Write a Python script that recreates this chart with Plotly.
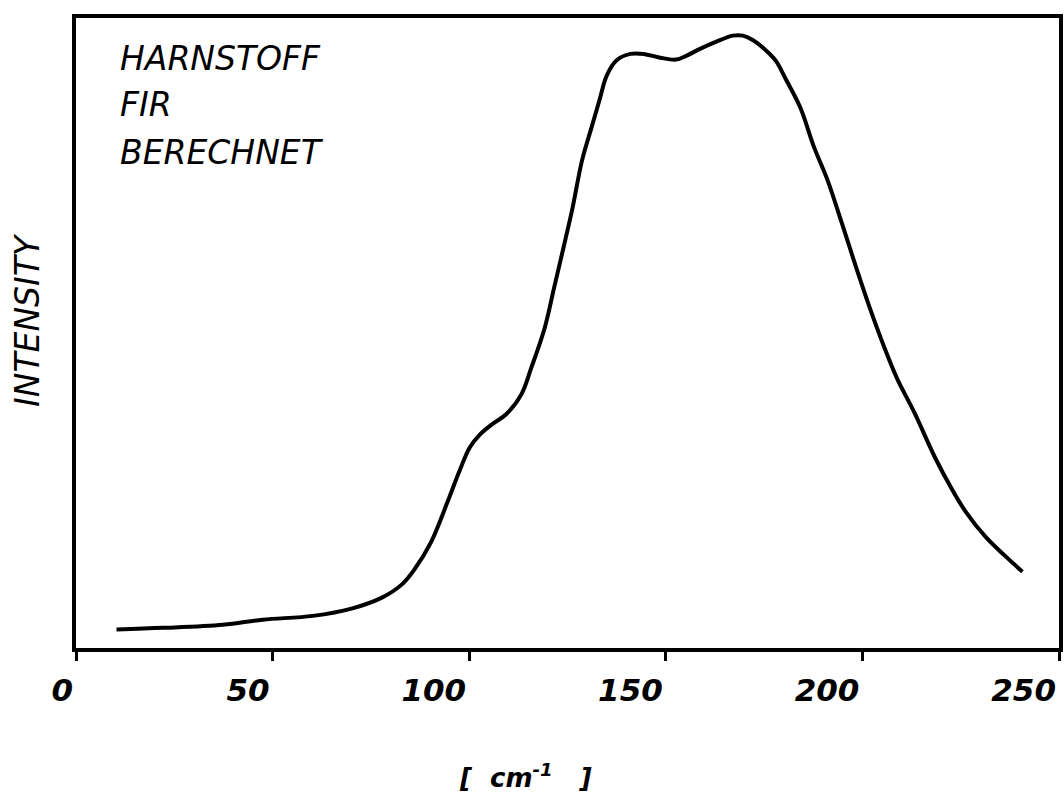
import plotly.graph_objects as go

# wavenumber [cm^-1]
wavenumber = [10.3, 22.2, 37.4, 47.5, 60.2, 70.3, 77.8, 82.9, 86.1, 90.3,
              94.5, 97.6, 100.1, 102.6, 105.8, 109.4, 113.3, 115.8, 119.2, 121.6,
              124.0, 126.3, 128.7, 131.1, 133.1, 135.0, 137.5, 141.0, 144.3, 148.6,
              152.6, 155.2, 158.7, 162.7, 167.0, 169.6, 172.1, 175.4, 178.0, 180.6,
              184.2, 187.7, 191.1, 194.8, 198.3, 201.7, 205.4, 208.8, 213.2, 218.5,
              222.6, 226.2, 231.4, 236.5, 240.7]
# intensity (arbitrary units)
intensity = [2.95, 3.2, 3.7, 4.5, 5.1, 6.3, 8.0, 10.1, 12.5, 16.8,
             23.2, 28.2, 31.8, 33.8, 35.5, 37.1, 40.3, 44.5, 50.8, 57.2,
             63.6, 69.9, 77.4, 82.6, 86.9, 90.9, 93.3, 94.3, 94.3, 93.7,
             93.4, 94.0, 95.1, 96.2, 97.2, 97.2, 96.5, 94.9, 93.2, 90.2,
             85.8, 79.5, 74.3, 67.4, 60.6, 54.3, 48.0, 42.8, 37.4, 30.2,
             25.4, 21.7, 17.6, 14.5, 12.1]

tick_vals = [0, 50, 100, 150, 200, 250]
tick_text = ["0", "50", "100", "150", "200", "250"]
title_lines = ["HARNSTOFF", "FIR", "BERECHNET"]
y_title = "INTENSITY"
x_title = "[\u00a0\u00a0cm<sup>-1</sup>\u00a0\u00a0\u00a0]"

fig = go.Figure()
fig.add_trace(go.Scatter(
    x=wavenumber, y=intensity, mode="lines",
    line=dict(color="black", width=4, shape="spline", smoothing=1.0),
    showlegend=False, hoverinfo="skip"))

W, H = 1064, 796
ml, mt = 76, 18
plot_right, plot_bottom = 1059, 648
mr, mb = W - plot_right, H - plot_bottom

fig.update_layout(
    width=W, height=H,
    margin=dict(l=ml, r=mr, t=mt, b=mb, autoexpand=False),
    paper_bgcolor="white", plot_bgcolor="white",
    xaxis=dict(range=[0, 250], tickvals=tick_vals, ticktext=tick_text,
               automargin=False,
               showgrid=False, zeroline=False,
               showline=True, linecolor="black", linewidth=3.5, mirror=True,
               ticks="outside", ticklen=9, tickwidth=2.5, tickcolor="black",
               ticklabelposition="outside left", ticklabelstandoff=12,
               tickfont=dict(family="DejaVu Sans", size=31, color="black",
                             weight="bold", style="italic")),
    yaxis=dict(range=[0, 100], showgrid=False, zeroline=False, automargin=False,
               showline=True, linecolor="black", linewidth=3.5, mirror=True,
               showticklabels=False, ticks=""),
)

plot_h = H - mt - mb
plot_w = W - ml - mr

def px_to_paper(px, py):
    return (px - ml) / plot_w, (H - mb - py) / plot_h

for line, cy in zip(title_lines, [58, 105, 152]):
    ax, ay = px_to_paper(118, cy)
    fig.add_annotation(x=ax, y=ay, xref="paper", yref="paper", text=line,
                       showarrow=False, xanchor="left", yanchor="middle",
                       font=dict(family="DejaVu Sans", size=33, color="black",
                                 style="italic"))

ax, ay = px_to_paper(27, 320)
fig.add_annotation(x=ax, y=ay, xref="paper", yref="paper", text=y_title,
                   showarrow=False, textangle=-90, xanchor="center", yanchor="middle",
                   font=dict(family="DejaVu Sans", size=33, color="black", style="italic"))

ax, ay = px_to_paper(525, 776)
fig.add_annotation(x=ax, y=ay, xref="paper", yref="paper", text=x_title,
                   showarrow=False, xanchor="center", yanchor="middle",
                   font=dict(family="DejaVu Sans", size=26, color="black",
                             weight="bold", style="italic"))

fig.write_html(
    "out.html",
    config={"displayModeBar": False},
    post_script="document.body.style.margin='0';document.body.style.overflow='hidden';",
)
